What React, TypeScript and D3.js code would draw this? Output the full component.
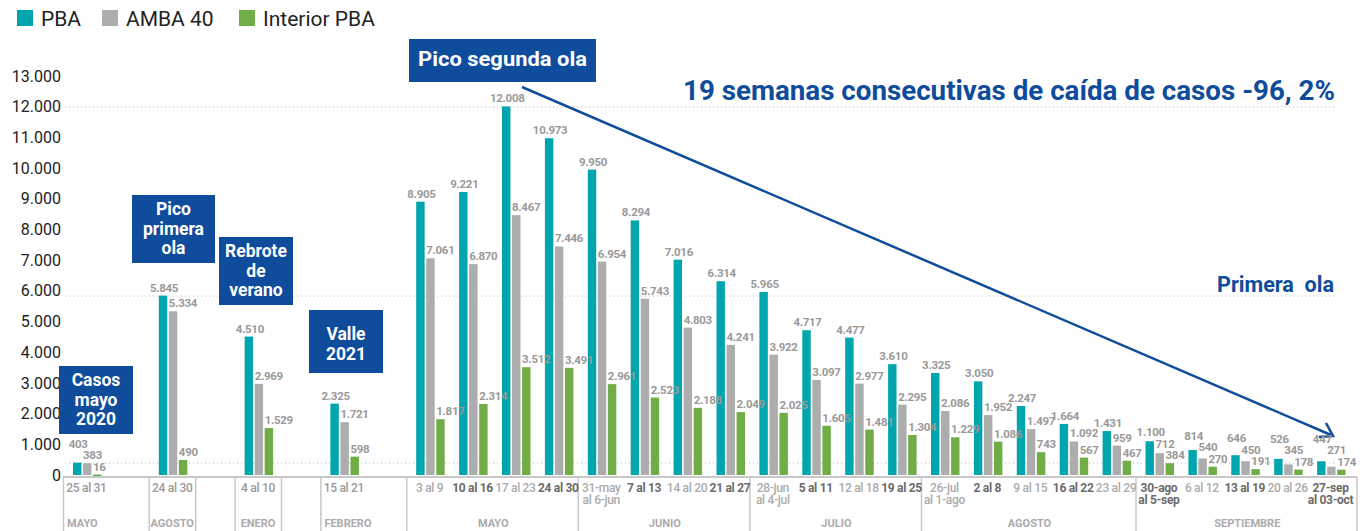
import React from "react";
import * as d3 from "d3";

// semanas (las 4 primeras son semanas sueltas de 2020/2021, luego semanas consecutivas)
const semanas = [
    "25 al 31", "24 al 30", "4 al 10", "15 al 21",
    "3 al 9", "10 al 16", "17 al 23", "24 al 30",
    "31-may|al 6-jun", "7 al 13", "14 al 20", "21 al 27",
    "28-jun|al 4-jul", "5 al 11", "12 al 18", "19 al 25",
    "26-jul|al 1-ago", "2 al 8", "9 al 15", "16 al 22", "23 al 29",
    "30-ago|al 5-sep", "6 al 12", "13 al 19", "20 al 26", "27-sep|al 03-oct",
];
const pba = [403, 5845, 4510, 2325, 8905, 9221, 12008, 10973, 9950, 8294, 7016, 6314, 5965, 4717, 4477, 3610, 3325, 3050, 2247, 1664, 1431, 1100, 814, 646, 526, 447];
const amba = [383, 5334, 2969, 1721, 7061, 6870, 8467, 7446, 6954, 5743, 4803, 4241, 3922, 3097, 2977, 2295, 2086, 1952, 1497, 1092, 959, 712, 540, 450, 345, 271];
const interior = [16, 490, 1529, 598, 1817, 2314, 3512, 3491, 2961, 2523, 2188, 2049, 2025, 1605, 1481, 1304, 1229, 1086, 743, 567, 467, 384, 270, 191, 178, 174];
const series = ["PBA", "AMBA 40", "Interior PBA"];
const colores = ["#00a5ad", "#adadad", "#70ad47"];
const meses = ["MAYO", "AGOSTO", "ENERO", "FEBRERO", "MAYO", "JUNIO", "JULIO", "AGOSTO", "SEPTIEMBRE"];
const semanasPorMes = [1, 1, 1, 1, 4, 4, 4, 5, 5];
const yTicks = [0, 1000, 2000, 3000, 4000, 5000, 6000, 7000, 8000, 9000, 10000, 11000, 12000, 13000];
// picos marcados con línea punteada
const picos = [12008, 5845, 403];

const W = 1367, H = 531;
const AZUL = "#0f4c9c";
const FONT = "Roboto, 'Noto Sans', sans-serif";

const fmt = d3.formatLocale({ decimal: ",", thousands: ".", grouping: [3], currency: ["$", ""] }).format(",");

export default function App() {
    // las primeras 4 semanas llevan un hueco a continuación
    const slots: string[] = [];
    semanas.forEach((_, i) => {
        slots.push("s" + i);
        if (i < 4) slots.push("hueco" + i);
    });
    const x = d3.scaleBand<string>().domain(slots).range([65, 1352]).padding(0);
    const bw = x.bandwidth();
    const xs = d3.scaleBand<string>().domain(series).range([8, 36.5]).paddingInner(0.16);
    const y = d3.scaleLinear().domain([0, 13000]).range([475, 76]);
    const valores = [pba, amba, interior];

    // columnas de meses
    let k = 0;
    const columnas = meses.map((m, i) => {
        const a = k, b = k + semanasPorMes[i] - 1;
        k += semanasPorMes[i];
        return { nombre: m, x0: x("s" + a)!, x1: x("s" + b)! + bw, i };
    });
    const sepX: number[] = [];
    columnas.forEach((c) => {
        sepX.push(c.x0 - 1.5);
        if (c.i === 1 || c.i === 2) sepX.push(c.x1 + 2);
    });
    const xFin = x.range()[1] + 5;
    sepX.push(xFin);

    // posición vertical de las etiquetas: se apilan para que no se pisen
    const etiquetas = semanas.map((_, i) => {
        const base = valores.map((vs) => y(vs[i]) - 4);
        const yv = [0, 0, 0];
        yv[2] = base[2];
        yv[1] = Math.min(base[1], yv[2] - 11.5);
        yv[0] = Math.min(base[0], yv[1] - 11.5);
        return yv;
    });

    const cajas = [
        { lineas: ["Casos", "mayo", "2020"], x: 59, y: 366, w: 74, h: 68 },
        { lineas: ["Pico", "primera", "ola"], x: 132, y: 195, w: 83, h: 68 },
        { lineas: ["Rebrote", "de", "verano"], x: 219, y: 237, w: 74, h: 68 },
        { lineas: ["Valle", "2021"], x: 309, y: 310, w: 74, h: 63 },
    ];

    return (
        <svg width={W} height={H} style={{ position: "absolute", left: 0, top: 0, display: "block", background: "#fff" }} fontFamily={FONT}>
            {/* leyenda */}
            {[17, 102, 239].map((lx, i) => (
                <g key={i}>
                    <rect x={lx} y={10} width={16} height={16} fill={colores[i]} />
                    <text x={lx + 24} y={26} fontSize={21} fill="#222">{series[i]}</text>
                </g>
            ))}

            {/* eje y */}
            {yTicks.map((t) => (
                <text key={t} x={61} y={y(t)} dy="0.35em" textAnchor="end" fontSize={16} fill="#222">{fmt(t)}</text>
            ))}

            {/* líneas punteadas de referencia */}
            {picos.map((p) => (
                <line key={p} x1={65} x2={1335} y1={y(p) + 0.5} y2={y(p) + 0.5} stroke="#b5b5b5" strokeWidth={1} strokeDasharray="1 3" />
            ))}

            {/* barras */}
            {semanas.map((s, i) => (
                <g key={i} transform={`translate(${x("s" + i)},0)`}>
                    {series.map((se, j) => {
                        const v = valores[j][i];
                        const bx = xs(se)!;
                        return (
                            <rect key={se} x={bx} y={y(v)} width={xs.bandwidth()} height={Math.max(y(0) - y(v), 2)} fill={colores[j]} />
                        );
                    })}
                </g>
            ))}

            {/* flecha de tendencia */}
            <line x1={522} y1={87} x2={1331} y2={435} stroke={AZUL} strokeWidth={2.5} />
            <polyline points="1319,437 1333,436 1326,423" fill="none" stroke={AZUL} strokeWidth={2.5} />

            {/* etiquetas de valores */}
            {semanas.map((s, i) => (
                <g key={i} transform={`translate(${x("s" + i)},0)`}>
                    {series.map((se, j) => {
                        const v = valores[j][i];
                        const bx = xs(se)!;
                        return j === 0 ? (
                            <text key={se} x={bx + xs.bandwidth() / 2 + 1} y={etiquetas[i][j]} textAnchor="middle" fontSize={11.5} fontWeight={700} fill="#999" letterSpacing={-0.3}>{fmt(v)}</text>
                        ) : (
                            <text key={se} x={bx} y={etiquetas[i][j]} fontSize={11.5} fontWeight={700} fill="#999" letterSpacing={-0.3}>{fmt(v)}</text>
                        );
                    })}
                </g>
            ))}

            {/* eje x */}
            <line x1={63} x2={xFin} y1={477} y2={477} stroke="#c8c8c8" strokeWidth={2} />
            {sepX.map((sx, i) => (
                <line key={i} x1={sx} x2={sx} y1={477} y2={H} stroke="#c8c8c8" strokeWidth={1.5} />
            ))}
            {semanas.map((s, i) => {
                const partes = s.split("|");
                const cx = x("s" + i)! + bw / 2;
                const col = i < 4 ? "#999" : (i - 4) % 2 === 0 ? "#ababab" : "#6b6b6b";
                return (
                    <text key={i} x={cx} y={492} textAnchor="middle" fontSize={12} fontWeight={i >= 4 && (i - 4) % 2 === 1 ? 700 : 500} fill={col} letterSpacing={-0.3}>
                        {partes.map((p, j) => (
                            <tspan key={j} x={cx} dy={j === 0 ? 0 : 12}>{p}</tspan>
                        ))}
                    </text>
                );
            })}
            {columnas.map((c) => {
                const centrado = c.i === 1 || c.i === 2 || c.i >= 4;
                const cx = c.i >= 4 ? (c.x0 + (sepX[sepX.indexOf(c.x0 - 1.5) + 1])) / 2 : (c.x0 + c.x1) / 2;
                return (
                    <text key={c.i} x={centrado ? cx : c.x0 + 2} y={527} textAnchor={centrado ? "middle" : "start"} fontSize={11} fontWeight={700} fill="#ababab">{c.nombre}</text>
                );
            })}

            {/* cajas de anotación */}
            {cajas.map((c, i) => (
                <g key={i}>
                    <rect x={c.x} y={c.y} width={c.w} height={c.h} fill={AZUL} />
                    {c.lineas.map((l, j) => (
                        <text key={j} x={c.x + c.w / 2} y={c.y + 20 + j * 19.5 + (c.lineas.length === 2 ? 10 : 0)} textAnchor="middle" fontSize={17.5} fontWeight={700} fill="#fff">{l}</text>
                    ))}
                </g>
            ))}
            <rect x={409} y={39} width={187} height={43} fill={AZUL} />
            <text x={502.5} y={66} textAnchor="middle" fontSize={21} fontWeight={700} fill="#fff" textLength={169} lengthAdjust="spacingAndGlyphs">Pico segunda ola</text>

            <text x={683} y={100} fontSize={28} fontWeight={700} fill={AZUL} textLength={652} lengthAdjust="spacingAndGlyphs">19 semanas consecutivas de caída de casos -96, 2%</text>
            <text x={1334} y={292} textAnchor="end" fontSize={22} fontWeight={700} fill={AZUL} textLength={117} lengthAdjust="spacingAndGlyphs">{"Primera\u00a0 ola"}</text>
        </svg>
    );
}
